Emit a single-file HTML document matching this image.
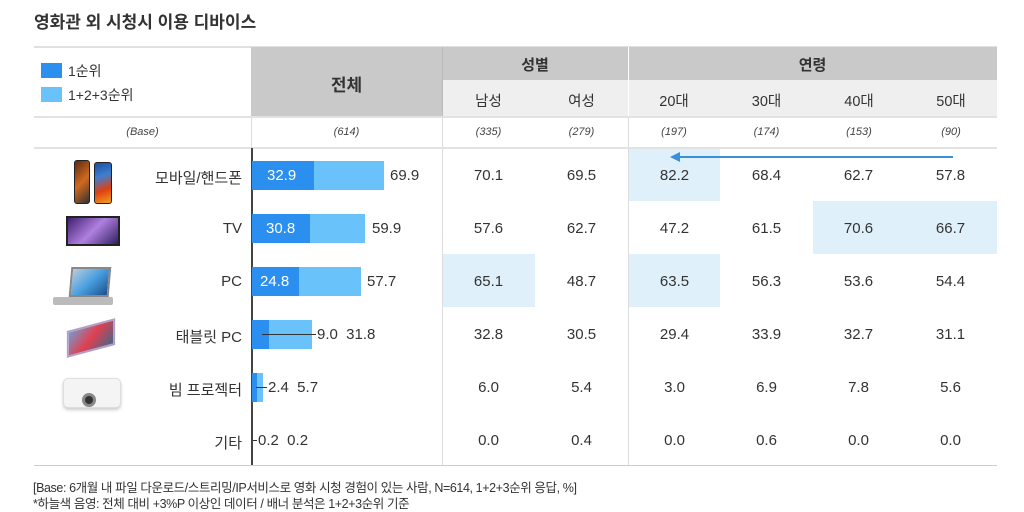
<!DOCTYPE html>
<html><head><meta charset="utf-8"><style>
*{margin:0;padding:0;box-sizing:border-box}
body{width:1024px;height:512px;background:#fff;position:relative;overflow:hidden;font-family:"Liberation Sans","Noto Sans CJK KR",sans-serif;color:#333}
.a{position:absolute}
.c{position:absolute;text-align:center;font-size:15px}
.hl{position:absolute;background:#dff0fb}
.num{position:absolute;font-size:15px;text-align:center;width:93px}
.base{position:absolute;font-size:11px;font-style:italic;text-align:center;color:#444}
.lbl{position:absolute;right:782px;font-size:15px;text-align:right}
.b1{position:absolute;background:#2b8ff0;height:29px;left:252px}
.b2{position:absolute;background:#6ac2fb;height:29px;left:252px}
.bv{position:absolute;font-size:15px;color:#fff}
.tv{position:absolute;font-size:15px}
</style></head><body>
<div class="a" style="left:34px;top:8px;font-size:17px;font-weight:bold;color:#333">영화관 외 시청시 이용 디바이스</div>

<div class="a" style="left:34px;top:46px;width:963px;height:2px;background:#e0e0e0"></div>
<div class="a" style="left:251px;top:47px;width:191px;height:70px;background:#c9c9c9"></div>
<div class="a" style="left:442px;top:47px;width:555px;height:33px;background:#c9c9c9"></div>
<div class="a" style="left:442px;top:80px;width:555px;height:37px;background:#efefef"></div>
<div class="a" style="left:442px;top:47px;width:1px;height:70px;background:#bbb"></div>
<div class="a" style="left:628px;top:47px;width:1px;height:70px;background:#fff"></div>
<div class="c" style="left:251px;top:71px;width:191px;font-size:17px;font-weight:bold">전체</div>
<div class="c" style="left:442px;top:54px;width:186px;font-weight:bold">성별</div>
<div class="c" style="left:628px;top:54px;width:369px;font-weight:bold">연령</div>
<div class="c" style="left:442px;top:90px;width:93px;font-size:14.5px">남성</div>
<div class="c" style="left:535px;top:90px;width:93px;font-size:14.5px">여성</div>
<div class="c" style="left:628px;top:90px;width:92px;font-size:14.5px">20대</div>
<div class="c" style="left:720px;top:90px;width:93px;font-size:14.5px">30대</div>
<div class="c" style="left:813px;top:90px;width:92px;font-size:14.5px">40대</div>
<div class="c" style="left:905px;top:90px;width:92px;font-size:14.5px">50대</div>
<div class="a" style="left:41px;top:63px;width:21px;height:15px;background:#2b8ff0"></div>
<div class="a" style="left:68px;top:61px;font-size:14px">1순위</div>
<div class="a" style="left:41px;top:87px;width:21px;height:15px;background:#6ac2fb"></div>
<div class="a" style="left:68px;top:85px;font-size:14px">1+2+3순위</div>
<div class="a" style="left:34px;top:116px;width:963px;height:2px;background:#e2e2e2"></div>
<div class="base" style="left:34px;top:126px;width:217px">(Base)</div>
<div class="base" style="left:251px;top:126px;width:191px">(614)</div>
<div class="base" style="left:442px;top:126px;width:93px">(335)</div>
<div class="base" style="left:535px;top:126px;width:93px">(279)</div>
<div class="base" style="left:628px;top:126px;width:92px">(197)</div>
<div class="base" style="left:720px;top:126px;width:93px">(174)</div>
<div class="base" style="left:813px;top:126px;width:92px">(153)</div>
<div class="base" style="left:905px;top:126px;width:92px">(90)</div>
<div class="a" style="left:251px;top:117px;width:1px;height:31px;background:#ddd"></div>
<div class="a" style="left:442px;top:117px;width:1px;height:31px;background:#ddd"></div>
<div class="a" style="left:628px;top:117px;width:1px;height:31px;background:#ddd"></div>
<div class="a" style="left:34px;top:147px;width:963px;height:2px;background:#e2e2e2"></div>

<div class="hl" style="left:629px;top:149px;width:91px;height:52px"></div>
<div class="hl" style="left:813px;top:201px;width:184px;height:53px"></div>
<div class="hl" style="left:443px;top:254px;width:92px;height:53px"></div>
<div class="hl" style="left:629px;top:254px;width:91px;height:53px"></div>

<div class="a" style="left:251px;top:148px;width:2px;height:318px;background:#444"></div>
<div class="a" style="left:442px;top:148px;width:1px;height:318px;background:#ddd"></div>
<div class="a" style="left:628px;top:148px;width:1px;height:318px;background:#ddd"></div>
<div class="a" style="left:34px;top:465px;width:963px;height:1px;background:#ccc"></div>

<div class="a" style="left:678px;top:156px;width:275px;height:2px;background:#3a8fd8"></div>
<div class="a" style="left:670px;top:152px;width:0;height:0;border-top:5px solid transparent;border-bottom:5px solid transparent;border-right:10px solid #3a8fd8"></div>

<div class="a" style="left:74px;top:160px;width:16px;height:44px;background:linear-gradient(135deg,#5a2a10,#d2691e,#333);border-radius:3px;border:1px solid #222"></div>
<div class="a" style="left:94px;top:162px;width:18px;height:42px;background:linear-gradient(160deg,#1d4fa0,#3c7fd0,#e04010,#f0a020);border-radius:3px;border:1px solid #222"></div>
<div class="a" style="left:66px;top:216px;width:54px;height:30px;background:linear-gradient(135deg,#402070,#b080e0,#302060);border:2px solid #222"></div>
<div class="a" style="left:70px;top:267px;width:40px;height:30px;background:linear-gradient(135deg,#bcd,#4aa0e0,#1a5090);border:2px solid #888;transform:skewX(-5deg)"></div>
<div class="a" style="left:53px;top:297px;width:60px;height:8px;background:#bbb;border-radius:2px"></div>
<div class="a" style="left:66px;top:325px;width:50px;height:26px;background:linear-gradient(135deg,#79c,#e04050,#468);border:2px solid #b0a0c8;transform:rotate(-15deg) skewX(-15deg)"></div>
<div class="a" style="left:63px;top:378px;width:58px;height:30px;background:#f4f4f4;border:1px solid #ddd;border-radius:5px;box-shadow:0 2px 3px #ccc"></div>
<div class="a" style="left:82px;top:393px;width:14px;height:14px;background:#333;border-radius:50%;border:3px solid #888"></div>

<div class="lbl" style="top:167px">모바일/핸드폰</div>
<div class="lbl" style="top:220px">TV</div>
<div class="lbl" style="top:273px">PC</div>
<div class="lbl" style="top:326px">태블릿 PC</div>
<div class="lbl" style="top:379px">빔 프로젝터</div>
<div class="lbl" style="top:432px">기타</div>

<div class="b2" style="top:161px;width:132px"></div><div class="b1" style="top:161px;width:62px"></div>
<div class="bv" style="left:267px;top:167px">32.9</div><div class="tv" style="left:390px;top:167px">69.9</div>
<div class="b2" style="top:214px;width:113px"></div><div class="b1" style="top:214px;width:58px"></div>
<div class="bv" style="left:266px;top:220px">30.8</div><div class="tv" style="left:372px;top:220px">59.9</div>
<div class="b2" style="top:267px;width:109px"></div><div class="b1" style="top:267px;width:47px"></div>
<div class="bv" style="left:260px;top:273px">24.8</div><div class="tv" style="left:367px;top:273px">57.7</div>
<div class="b2" style="top:320px;width:60px"></div><div class="b1" style="top:320px;width:17px"></div>
<div class="a" style="left:262px;top:334px;width:54px;height:1px;background:#333"></div>
<div class="tv" style="left:317px;top:326px">9.0&nbsp; 31.8</div>
<div class="b2" style="top:373px;width:11px"></div><div class="b1" style="top:373px;width:5px"></div>
<div class="a" style="left:256px;top:387px;width:11px;height:1px;background:#333"></div>
<div class="tv" style="left:268px;top:379px">2.4&nbsp; 5.7</div>
<div class="a" style="left:253px;top:440px;width:4px;height:1px;background:#333"></div>
<div class="tv" style="left:258px;top:432px">0.2&nbsp; 0.2</div>

<div class="num" style="left:442px;top:167px">70.1</div><div class="num" style="left:535px;top:167px">69.5</div><div class="num" style="left:628px;top:167px">82.2</div><div class="num" style="left:720px;top:167px">68.4</div><div class="num" style="left:812px;top:167px">62.7</div><div class="num" style="left:904px;top:167px">57.8</div>
<div class="num" style="left:442px;top:220px">57.6</div><div class="num" style="left:535px;top:220px">62.7</div><div class="num" style="left:628px;top:220px">47.2</div><div class="num" style="left:720px;top:220px">61.5</div><div class="num" style="left:812px;top:220px">70.6</div><div class="num" style="left:904px;top:220px">66.7</div>
<div class="num" style="left:442px;top:273px">65.1</div><div class="num" style="left:535px;top:273px">48.7</div><div class="num" style="left:628px;top:273px">63.5</div><div class="num" style="left:720px;top:273px">56.3</div><div class="num" style="left:812px;top:273px">53.6</div><div class="num" style="left:904px;top:273px">54.4</div>
<div class="num" style="left:442px;top:326px">32.8</div><div class="num" style="left:535px;top:326px">30.5</div><div class="num" style="left:628px;top:326px">29.4</div><div class="num" style="left:720px;top:326px">33.9</div><div class="num" style="left:812px;top:326px">32.7</div><div class="num" style="left:904px;top:326px">31.1</div>
<div class="num" style="left:442px;top:379px">6.0</div><div class="num" style="left:535px;top:379px">5.4</div><div class="num" style="left:628px;top:379px">3.0</div><div class="num" style="left:720px;top:379px">6.9</div><div class="num" style="left:812px;top:379px">7.8</div><div class="num" style="left:904px;top:379px">5.6</div>
<div class="num" style="left:442px;top:432px">0.0</div><div class="num" style="left:535px;top:432px">0.4</div><div class="num" style="left:628px;top:432px">0.0</div><div class="num" style="left:720px;top:432px">0.6</div><div class="num" style="left:812px;top:432px">0.0</div><div class="num" style="left:904px;top:432px">0.0</div>

<div class="a" style="left:33px;top:477px;font-size:12.5px;color:#333;letter-spacing:-0.4px">[Base: 6개월 내 파일 다운로드/스트리밍/IP서비스로 영화 시청 경험이 있는 사람, N=614, 1+2+3순위 응답, %]</div>
<div class="a" style="left:33px;top:493px;font-size:12.5px;color:#333;letter-spacing:-0.4px">*하늘색 음영: 전체 대비 +3%P 이상인 데이터 / 배너 분석은 1+2+3순위 기준</div>
</body></html>
